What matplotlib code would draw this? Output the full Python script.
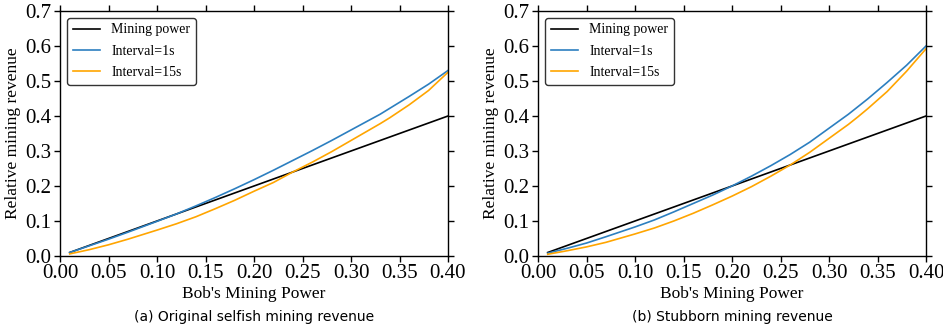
import numpy as np
import matplotlib.pyplot as plt

# Bob's mining power (x) and revenue curves
power = [0.01, 0.03, 0.05, 0.07, 0.10, 0.12, 0.14, 0.16, 0.18, 0.20, 0.22,
         0.24, 0.26, 0.28, 0.30, 0.32, 0.33, 0.34, 0.36, 0.38, 0.40]

selfish_1s = [0.010, 0.029, 0.048, 0.068, 0.099, 0.120, 0.143, 0.167, 0.192, 0.218, 0.245,
              0.273, 0.301, 0.330, 0.360, 0.390, 0.405, 0.422, 0.456, 0.491, 0.530]
selfish_15s = [0.006, 0.018, 0.032, 0.048, 0.074, 0.092, 0.112, 0.135, 0.159, 0.185, 0.210,
               0.240, 0.268, 0.298, 0.330, 0.362, 0.378, 0.395, 0.432, 0.473, 0.525]

stubborn_1s = [0.008, 0.022, 0.037, 0.055, 0.083, 0.103, 0.126, 0.150, 0.174, 0.200, 0.228,
               0.258, 0.290, 0.325, 0.365, 0.405, 0.427, 0.449, 0.496, 0.545, 0.600]
stubborn_15s = [0.005, 0.015, 0.026, 0.039, 0.063, 0.080, 0.100, 0.122, 0.146, 0.171, 0.198,
                0.228, 0.260, 0.296, 0.336, 0.376, 0.398, 0.421, 0.470, 0.528, 0.592]

captions = ['(a) Original selfish mining revenue', '(b) Stubborn mining revenue']
xticks = [0.00, 0.05, 0.10, 0.15, 0.20, 0.25, 0.30, 0.35, 0.40]
yticks = [0.0, 0.1, 0.2, 0.3, 0.4, 0.5, 0.6, 0.7]

serif = ['Liberation Serif', 'DejaVu Serif']

fig = plt.figure(figsize=(9.43, 3.31), dpi=100)
W, H = 943, 331
boxes = [(60, 448), (538, 926)]
top, bottom = 11, 256
panels = [(selfish_1s, selfish_15s), (stubborn_1s, stubborn_15s)]

for (l, r), (s1, s15), cap in zip(boxes, panels, captions):
    ax = fig.add_axes([l / W, 1 - bottom / H, (r - l) / W, (bottom - top) / H])
    ax.plot(power, power, color='black', lw=1.2, label='Mining power')
    ax.plot(power, s1, color='#2c7fc0', lw=1.2, label='Interval=1s')
    ax.plot(power, s15, color='#ffa500', lw=1.2, label='Interval=15s')
    ax.set_xlim(0, 0.4)
    ax.set_ylim(0, 0.7)
    ax.set_xticks(xticks)
    ax.set_yticks(yticks)
    ax.set_xticklabels(['%.2f' % v for v in xticks], family=serif, fontsize=15)
    ax.set_yticklabels(['%.1f' % v for v in yticks], family=serif, fontsize=15)
    ax.tick_params(direction='out', top=True, right=True, length=4, width=1, pad=2)
    for s in ax.spines.values():
        s.set_linewidth(1.0)
    ax.set_xlabel("Bob's Mining Power", family=serif, fontsize=12.5, labelpad=2)
    ax.set_ylabel('Relative mining revenue', family=serif, fontsize=12.5, labelpad=3)
    leg = ax.legend(loc='upper left', prop={'family': serif, 'size': 10},
                    frameon=True, fancybox=True, framealpha=1,
                    borderaxespad=0.5, handlelength=2.0, labelspacing=0.6)
    leg.get_frame().set_edgecolor('#333333')
    leg.get_frame().set_linewidth(1.0)
    fig.text((l + r) / 2 / W, 1 - 317 / H, cap, ha='center', va='center',
             fontsize=10, family='DejaVu Sans')

fig.savefig('out.png', dpi=100)
